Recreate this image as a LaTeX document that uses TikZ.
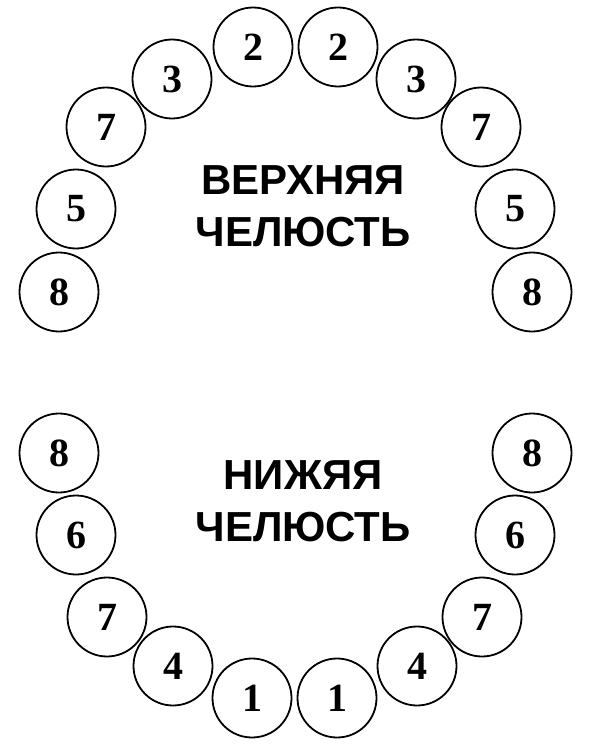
\documentclass[tikz,border=0pt]{standalone}
\usepackage{fontspec}
\setmainfont{Liberation Serif}
\newfontfamily\jawfont{Liberation Sans}
\usepackage{tikz}

\begin{document}
\begin{tikzpicture}[x=1pt, y=-1pt,
    tooth/.style={draw, circle, line width=1.8pt, minimum size=79pt, inner sep=0pt,
        font=\fontsize{40}{40}\selectfont\bfseries},
    jaw/.style={align=center, inner sep=0pt,
        font=\jawfont\fontsize{42}{52}\selectfont\bfseries}]
    \useasboundingbox (0, 0) rectangle (600, 749);

    % upper jaw
    \node[tooth] (u2l) at (253, 47) {2};
    \node[tooth] (u2r) at (338, 47) {2};
    \node[tooth] (u3l) at (172, 79) {3};
    \node[tooth] (u3r) at (416, 79) {3};
    \node[tooth] (u7l) at (106, 127) {7};
    \node[tooth] (u7r) at (481, 127) {7};
    \node[tooth] (u5l) at (76, 209) {5};
    \node[tooth] (u5r) at (515, 209) {5};
    \node[tooth] (u8l) at (59, 292) {8};
    \node[tooth] (u8r) at (532, 292) {8};
    \node[jaw] (upper) at (303, 206) {ВЕРХНЯЯ\\ЧЕЛЮСТЬ};

    % lower jaw
    \node[tooth] (l8l) at (59, 453) {8};
    \node[tooth] (l8r) at (532, 453) {8};
    \node[tooth] (l6l) at (76, 535) {6};
    \node[tooth] (l6r) at (515, 535) {6};
    \node[tooth] (l7l) at (107, 617) {7};
    \node[tooth] (l7r) at (482, 617) {7};
    \node[tooth] (l4l) at (173, 666) {4};
    \node[tooth] (l4r) at (417, 666) {4};
    \node[tooth] (l1l) at (252, 698) {1};
    \node[tooth] (l1r) at (337, 698) {1};
    \node[jaw] (lower) at (303, 501) {НИЖЯЯ\\ЧЕЛЮСТЬ};
\end{tikzpicture}
\end{document}
